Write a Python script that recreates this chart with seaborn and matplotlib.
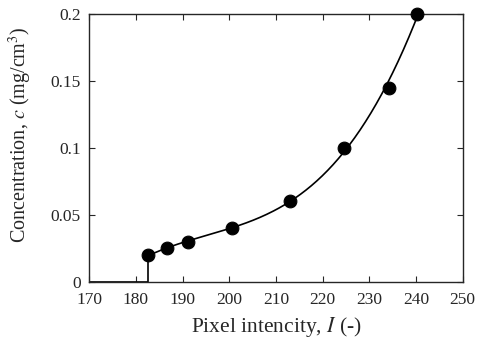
import numpy as np
import pandas as pd
import matplotlib
matplotlib.use("Agg")
import matplotlib.pyplot as plt
import seaborn as sns

# calibration points
intensity = [182.5, 186.7, 191.2, 200.5, 213.0, 224.5, 234.2, 240.2]
concentration = [0.020, 0.025, 0.030, 0.040, 0.060, 0.100, 0.145, 0.200]

# baseline below the first calibration point
base_x = [170, 182.5, 182.5]
base_y = [0, 0, 0.020]

df = pd.DataFrame({"I": intensity, "c": concentration})
base = pd.DataFrame({"I": base_x, "c": base_y})

sns.set_style("ticks")
plt.rcParams["font.family"] = ["Liberation Serif", "DejaVu Serif"]
plt.rcParams["mathtext.fontset"] = "stix"
plt.rcParams["xtick.direction"] = "in"
plt.rcParams["ytick.direction"] = "in"

fig, ax = plt.subplots(figsize=(4.82, 3.45), dpi=100)

# fitted calibration curve (cubic fit through the points)
coef = np.polyfit(df["I"], df["c"], 3)
fit = pd.DataFrame({"I": np.linspace(df["I"].min(), df["I"].max(), 200)})
fit["c"] = np.polyval(coef, fit["I"])
sns.lineplot(data=fit, x="I", y="c", color="black", lw=1.2, ax=ax)
sns.lineplot(data=base, x="I", y="c", color="black", lw=1.2, sort=False,
             estimator=None, ax=ax)

sns.scatterplot(data=df, x="I", y="c", color="black", s=85, edgecolor="black",
                zorder=5, clip_on=False, ax=ax)

ax.set_xlim(170, 250)
ax.set_ylim(0, 0.2)
ax.set_xticks(range(170, 251, 10))
ax.set_yticks([0, 0.05, 0.1, 0.15, 0.2])
ax.set_yticklabels(["0", "0.05", "0.1", "0.15", "0.2"])
ax.tick_params(top=True, right=True, length=4, width=0.8, labelsize=12.5)
ax.tick_params(axis="x", pad=7)
ax.tick_params(axis="y", pad=6)
for s in ax.spines.values():
    s.set_linewidth(1.0)

ax.set_xlabel("Pixel intencity, $I$ (-)", fontsize=15.5, labelpad=5)
ax.set_ylabel("Concentration, $c$ (mg/cm$^3$)", fontsize=14.5)
ax.yaxis.set_label_coords(-0.147, 0.55)

fig.subplots_adjust(left=0.185, right=0.96, top=0.96, bottom=0.183)
fig.savefig("out.png", dpi=100)
